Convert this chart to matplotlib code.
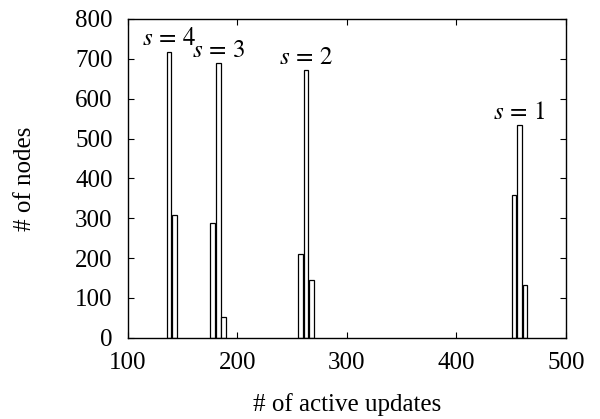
import matplotlib
matplotlib.use('Agg')
import matplotlib.pyplot as plt

# histogram bins (left edge, width 5) and counts for each s
bin_width = 5
s_values = [4, 3, 2, 1]
bin_lefts = [
    [135, 140],
    [175, 180, 185],
    [255, 260, 265],
    [450, 455, 460],
]
counts = [
    [718, 307],
    [287, 689, 52],
    [210, 672, 144],
    [357, 534, 132],
]

plt.rcParams['font.family'] = ['Liberation Serif', 'DejaVu Serif']
plt.rcParams['mathtext.fontset'] = 'stix'

fig = plt.figure(figsize=(6, 4.19), dpi=100)
ax = fig.add_axes([0.2133, 0.194, 0.73, 0.7607])

for s, lefts, vals in zip(s_values, bin_lefts, counts):
    centers = [l + bin_width / 2 for l in lefts]
    ax.bar(centers, vals, width=bin_width * 0.88, color='white',
           edgecolor='black', linewidth=0.9)
    # label above tallest bar
    i = vals.index(max(vals))
    ax.annotate(r'$s\,=\,%d$' % s, (centers[i], vals[i]), xytext=(0, 1),
                textcoords='offset points', ha='center', va='bottom',
                fontsize=18)

ax.set_xlim(100, 500)
ax.set_ylim(0, 800)
ax.set_xticks([100, 200, 300, 400, 500])
ax.set_yticks(range(0, 801, 100))
ax.tick_params(direction='in', length=4, width=0.8, top=True, right=True,
               labelsize=18)
ax.tick_params(axis='x', pad=10)
ax.tick_params(axis='y', pad=11)
for sp in ax.spines.values():
    sp.set_linewidth(1.0)

ax.set_xlabel('# of active updates', fontsize=18, labelpad=14)
ax.set_ylabel('# of nodes', fontsize=18, labelpad=28)

fig.savefig('out.png', dpi=100)
